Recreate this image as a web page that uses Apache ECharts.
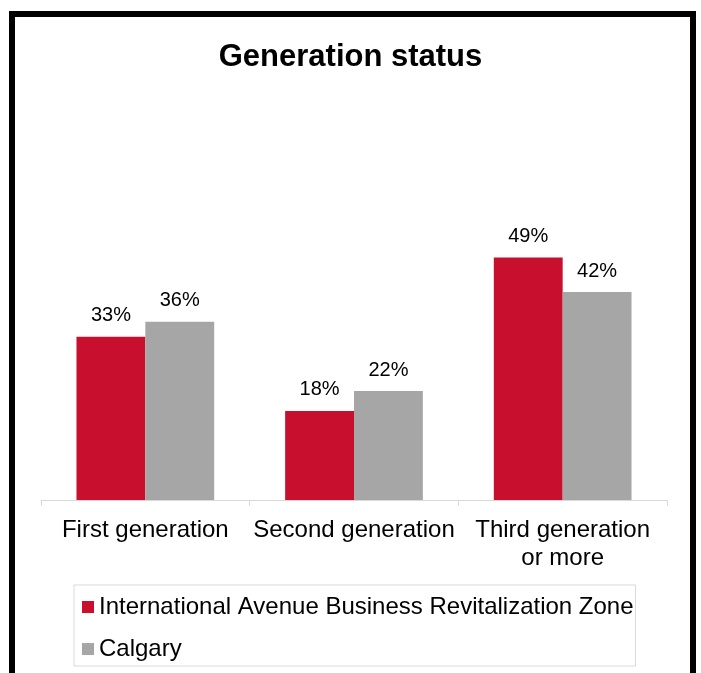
<!DOCTYPE html>
<html>
<head>
<meta charset="utf-8">
<script src="https://cdn.jsdelivr.net/npm/echarts@6/dist/echarts.min.js"></script>
<style>
  html, body { margin: 0; padding: 0; background: #fff; }
  #main { width: 701px; height: 673px; }
</style>
</head>
<body>
<div id="main"></div>
<script>
var categories = ['First generation', 'Second generation', 'Third generation\nor more'];
var zoneValues = [33, 18, 49];
var calgaryValues = [36, 22, 42];
var seriesNames = ['International Avenue Business Revitalization Zone', 'Calgary'];

var chart = echarts.init(document.getElementById('main'));

var labelStyle = {
  show: true,
  position: 'top',
  distance: 11,
  formatter: '{c}%',
  fontFamily: 'Liberation Sans',
  fontSize: 20,
  color: '#000'
};

var option = {
  animation: false,
  backgroundColor: '#fff',
  textStyle: { fontFamily: 'Liberation Sans' },
  graphic: [{
    type: 'rect',
    shape: { x: 12, y: 14, width: 681, height: 720 },
    style: { fill: 'none', stroke: '#000', lineWidth: 6 },
    silent: true
  }],
  title: {
    text: 'Generation status',
    left: 'center',
    top: 37,
    textStyle: {
      fontFamily: 'Liberation Sans',
      fontWeight: 'bold',
      fontSize: 31,
      color: '#000'
    }
  },
  legend: {
    orient: 'vertical',
    left: 74,
    top: 585,
    data: seriesNames,
    icon: 'rect',
    itemWidth: 12,
    itemHeight: 12,
    itemGap: 14,
    padding: [8, 2, 3, 8],
    borderColor: '#d9d9d9',
    borderWidth: 1,
    textStyle: {
      fontFamily: 'Liberation Sans',
      fontSize: 24,
      lineHeight: 28,
      color: '#000'
    }
  },
  grid: {
    left: 41,
    right: 34,
    top: 203,
    bottom: 173,
    containLabel: false
  },
  xAxis: {
    type: 'category',
    data: categories,
    axisLine: { show: true, lineStyle: { color: '#d9d9d9', width: 1 } },
    axisTick: { show: true, length: 6, lineStyle: { color: '#d9d9d9' } },
    axisLabel: {
      interval: 0,
      hideOverlap: false,
      margin: 16,
      fontFamily: 'Liberation Sans',
      fontSize: 24,
      lineHeight: 28,
      color: '#000'
    }
  },
  yAxis: {
    type: 'value',
    min: 0,
    max: 60,
    show: false,
    splitLine: { show: false }
  },
  series: [{
    name: seriesNames[0],
    type: 'bar',
    data: zoneValues,
    barGap: '0%',
    barCategoryGap: '34%',
    itemStyle: { color: '#C8102E' },
    label: labelStyle
  }, {
    name: seriesNames[1],
    type: 'bar',
    data: calgaryValues,
    barGap: '0%',
    barCategoryGap: '34%',
    itemStyle: { color: '#A6A6A6' },
    label: labelStyle
  }]
};

chart.setOption(option);
</script>
</body>
</html>
